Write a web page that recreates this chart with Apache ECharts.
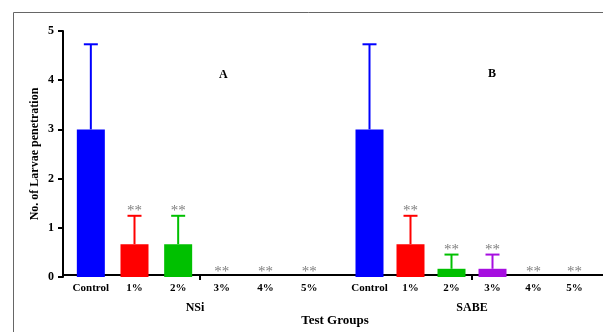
<!DOCTYPE html>
<html>
<head>
<meta charset="utf-8">
<script src="https://cdn.jsdelivr.net/npm/echarts@6/dist/echarts.min.js"></script>
<style>
  html, body { margin: 0; padding: 0; background: #fff; }
  #chart { width: 603px; height: 332px; }
</style>
</head>
<body>
<div id="chart"></div>
<script>
// groups on the x axis
var categories = ['Control', '1%', '2%', '3%', '4%', '5%'];
// NSi (panel A)
var nsiMean = [3, 0.667, 0.667, 0, 0, 0];
var nsiErr  = [1.73, 0.577, 0.577, 0, 0, 0];
var nsiSig  = ['', '**', '**', '**', '**', '**'];
// SABE (panel B)
var sabeMean = [3, 0.667, 0.167, 0.167, 0, 0];
var sabeErr  = [1.73, 0.577, 0.289, 0.289, 0, 0];
var sabeSig  = ['', '**', '**', '**', '**', '**'];
var yTicks = [0, 1, 2, 3, 4, 5];

var barColors = ['#0000ff', '#ff0000', '#00c000', '#a60ee0', '#444444', '#444444'];
var serif = 'Liberation Serif';

// layout of the two panels (px)
var axisLeft = 63, panelA = [69, 262], panelB = [349, 246], plotW = 603 - axisLeft;
// separator ticks between 2% and 3% of each panel, as fraction of the full axis
var sepTicks = [panelA, panelB].map(function (p) {
  return (p[0] + p[1] / categories.length * 3 - axisLeft) / plotW;
});

function barData(vals) {
  return vals.map(function (v, i) {
    return { value: v, itemStyle: { color: barColors[i] } };
  });
}
function errData(vals, errs) {
  return vals.map(function (v, i) { return [i, v, errs[i]]; });
}
function makeErr(sigs) {
  return function (params, api) {
    var i = api.value(0), v = api.value(1), e = api.value(2);
    var sig = sigs[params.dataIndex];
    var base = api.coord([i, v]);
    var top = api.coord([i, v + e]);
    var col = barColors[i];
    var kids = [];
    if (e > 0) {
      kids.push({ type: 'line', shape: { x1: base[0], y1: base[1], x2: top[0], y2: top[1] },
        style: { stroke: col, lineWidth: 2 } });
      kids.push({ type: 'line', shape: { x1: top[0] - 7, y1: top[1], x2: top[0] + 7, y2: top[1] },
        style: { stroke: col, lineWidth: 2 } });
    }
    if (sig) {
      kids.push({ type: 'text', x: top[0], y: top[1] + 3,
        style: { text: sig, fill: '#808080', font: '15px ' + serif, textAlign: 'center', textVerticalAlign: 'bottom' } });
    }
    return { type: 'group', children: kids };
  };
}

var catAxis = function (gridIndex, name, pad) {
  return {
    type: 'category', gridIndex: gridIndex, data: categories,
    name: name, nameLocation: 'middle', nameGap: 25,
    nameTextStyle: { fontFamily: serif, fontWeight: 'bold', fontSize: 12, color: '#000', padding: pad },
    axisLine: { show: false },
    axisTick: { show: false },
    axisLabel: { fontFamily: serif, fontWeight: 'bold', fontSize: 11, color: '#000', margin: 6, interval: 0 }
  };
};

var myChart = echarts.init(document.getElementById('chart'));
var option = {
  animation: false,
  backgroundColor: '#fff',
  title: [
    { text: 'A', left: 219, top: 69, padding: 0, textStyle: { fontFamily: serif, fontWeight: 'bold', fontSize: 12, color: '#000' } },
    { text: 'B', left: 488, top: 68, padding: 0, textStyle: { fontFamily: serif, fontWeight: 'bold', fontSize: 12, color: '#000' } }
  ],
  // frame of the figure panel (left and top edges only are in view)
  graphic: [
    { type: 'polyline', shape: { points: [[13.5, 332], [13.5, 12.5], [603, 12.5]] },
      style: { stroke: '#666', lineWidth: 1, fill: null } }
  ],
  grid: [
    { left: panelA[0], width: panelA[1], top: 31, height: 246 },
    { left: panelB[0], width: panelB[1], top: 31, height: 246 },
    { left: axisLeft, width: plotW, top: 31, height: 246 }
  ],
  xAxis: [
    catAxis(0, 'NSi', [0, 10, 0, 0]),
    catAxis(1, 'SABE', 0),
    { type: 'value', gridIndex: 2, min: 0, max: 1, name: 'Test Groups', nameLocation: 'middle', nameGap: 39,
      nameTextStyle: { fontFamily: serif, fontWeight: 'bold', fontSize: 13, color: '#000', padding: [0, 0, 0, 4] },
      axisLine: { show: true, lineStyle: { color: '#000', width: 2 } },
      axisTick: { show: true, customValues: sepTicks, length: 5, lineStyle: { color: '#000', width: 2 } },
      axisLabel: { show: false }, splitLine: { show: false } }
  ],
  yAxis: [
    { type: 'value', gridIndex: 0, min: yTicks[0], max: yTicks[yTicks.length - 1], interval: 1, offset: panelA[0] - axisLeft,
      name: 'No. of Larvae penetration', nameLocation: 'middle', nameGap: 22,
      nameTextStyle: { fontFamily: serif, fontWeight: 'bold', fontSize: 12, color: '#000' },
      axisLine: { show: true, lineStyle: { color: '#000', width: 2 } },
      axisTick: { show: true, length: 5, lineStyle: { color: '#000', width: 2 } },
      axisLabel: { fontFamily: serif, fontWeight: 'bold', fontSize: 12, color: '#000', margin: 9 },
      splitLine: { show: false } },
    { type: 'value', gridIndex: 1, min: 0, max: 5, interval: 1, show: false, splitLine: { show: false } },
    { type: 'value', gridIndex: 2, min: 0, max: 5, show: false, splitLine: { show: false } }
  ],
  series: [
    { type: 'bar', xAxisIndex: 0, yAxisIndex: 0, barWidth: 28, data: barData(nsiMean) },
    { type: 'bar', xAxisIndex: 1, yAxisIndex: 1, barWidth: 28, data: barData(sabeMean) },
    { type: 'custom', xAxisIndex: 0, yAxisIndex: 0, renderItem: makeErr(nsiSig), data: errData(nsiMean, nsiErr), z: 3 },
    { type: 'custom', xAxisIndex: 1, yAxisIndex: 1, renderItem: makeErr(sabeSig), data: errData(sabeMean, sabeErr), z: 3 }
  ]
};
myChart.setOption(option);
window.addEventListener('resize', function () {
  myChart.resize();
});
</script>
</body>
</html>
